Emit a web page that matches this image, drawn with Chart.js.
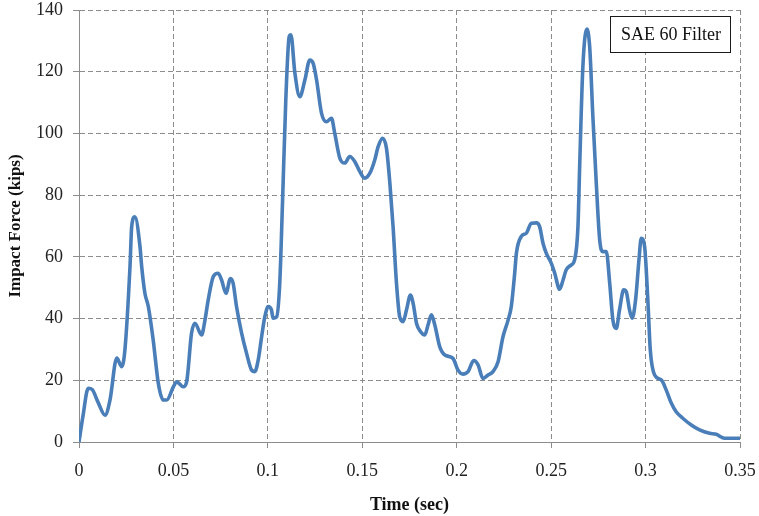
<!DOCTYPE html>
<html>
<head>
<meta charset="utf-8">
<script src="https://cdn.jsdelivr.net/npm/chart.js@4/dist/chart.umd.min.js"></script>
<style>
  html, body { margin: 0; padding: 0; background: #ffffff; }
  #wrap { width: 759px; height: 516px; }
</style>
</head>
<body>
<div id="wrap"><canvas id="c" width="759" height="516"></canvas></div>
<script>
// Time (sec)
const timeSec = [
  0, 0.002, 0.0049, 0.007, 0.010, 0.0138, 0.0164, 0.020, 0.0226, 0.0243,
  0.027, 0.0279, 0.0296, 0.0323, 0.0332, 0.0349, 0.0367, 0.0393, 0.042, 0.0446,
  0.0464, 0.05, 0.0517, 0.0552, 0.057, 0.0596, 0.0614, 0.0649, 0.0667, 0.0684,
  0.0711, 0.0737, 0.0755, 0.0778, 0.0802, 0.0816, 0.0834, 0.0861, 0.0887, 0.0914,
  0.0931, 0.0949, 0.0967, 0.0984, 0.1002, 0.1019, 0.1028, 0.1046, 0.1063, 0.1078,
  0.1095, 0.1113, 0.1122, 0.1143, 0.1169, 0.1196, 0.1222, 0.124, 0.1258, 0.1284,
  0.131, 0.1337, 0.1354, 0.1381, 0.1407, 0.1434, 0.146, 0.1487, 0.1513, 0.154,
  0.1566, 0.1584, 0.1607, 0.1628, 0.1646, 0.1663, 0.1681, 0.1698, 0.1716, 0.1734,
  0.1755, 0.1769, 0.1787, 0.1808, 0.1831, 0.1848, 0.1866, 0.1884, 0.191, 0.1937,
  0.198, 0.2007, 0.2033, 0.206, 0.209, 0.2113, 0.2139, 0.2166, 0.2192, 0.2219,
  0.2245, 0.2272, 0.2289, 0.2307, 0.2316, 0.2342, 0.2369, 0.2395, 0.2422, 0.2439,
  0.2457, 0.2474, 0.2501, 0.2519, 0.2545, 0.2563, 0.258, 0.2607, 0.2624, 0.2642,
  0.2651, 0.2668, 0.2689, 0.2704, 0.2721, 0.2739, 0.2757, 0.2774, 0.2792, 0.281,
  0.2827, 0.2845, 0.2862, 0.2884, 0.2898, 0.2915, 0.2929, 0.2947, 0.2965, 0.2977,
  0.2995, 0.3012, 0.3025, 0.3048, 0.3083, 0.3109, 0.3136, 0.3162, 0.3197, 0.3242,
  0.3286, 0.3339, 0.3374, 0.3418, 0.35
];
// Impact Force (kips)
const impactForce = [
  0, 8, 17.4, 17, 13, 8.7, 13.6, 27.2, 24.4, 29.8,
  56.8, 69.8, 73, 63.3, 56.8, 48.2, 43.9, 33, 19, 13.6,
  13.6, 17.9, 19.5, 17.9, 19.5, 35.3, 38.5, 34.7, 39.5, 46,
  53.6, 54.7, 52.5, 48.2, 53, 51.5, 43.9, 35.3, 28.8, 23.3,
  22.8, 26.6, 34.1, 40.6, 43.9, 42.8, 40.1, 40.5, 51.5, 78.4,
  110.9, 131.4, 132, 119.6, 111.9, 117.3, 123.8, 122.7, 117.3, 106.6,
  103.8, 104.9, 100.1, 92, 90.4, 92.5, 90.9, 87.6, 85.5, 87.1,
  91.4, 95.7, 98.4, 95.2, 83.9, 69.8, 51.5, 40.6, 39, 42.8,
  47.6, 45, 38.5, 35.8, 34.7, 37.9, 41.2, 37.9, 30.9, 28.2,
  27.1, 23.3, 22, 22.8, 26.4, 25, 20.6, 21.7, 22.8, 26,
  34.1, 39.5, 43.9, 54.7, 61.2, 66.6, 67.7, 70.9, 71, 69.8,
  64.4, 61.2, 57.9, 54.7, 49.5, 52.5, 55.8, 57.4, 59, 69.8,
  89.2, 121.6, 133.8, 128.1, 105.4, 83.9, 65.5, 61.7, 61.7, 51.5,
  39.5, 36.8, 42.8, 49.3, 48.6, 42.8, 40.1, 46, 59, 66,
  63.3, 46, 29.8, 21.7, 20.1, 16.9, 12.6, 9.8, 7.7, 5.5,
  3.9, 2.8, 2.5, 1.2, 1.2
];
const xTickValues = [0, 0.05, 0.1, 0.15, 0.2, 0.25, 0.3, 0.35];
const yTickValues = [0, 20, 40, 60, 80, 100, 120, 140];
const seriesLabel = 'SAE 60 Filter';
const xTitle = 'Time (sec)';
const yTitle = 'Impact Force (kips)';

const points = timeSec.map((t, i) => ({ x: t, y: impactForce[i] }));

const serif = '"Liberation Serif", "Times New Roman", serif';
const gridColor = '#8c8c8c';

const boxLabelPlugin = {
  id: 'boxLabel',
  afterDraw(chart) {
    const ctx = chart.ctx;
    const x0 = 610, y0 = 16, w = 120, h = 36;
    ctx.save();
    ctx.fillStyle = '#ffffff';
    ctx.fillRect(x0, y0, w, h);
    ctx.strokeStyle = '#1a1a1a';
    ctx.lineWidth = 1;
    ctx.strokeRect(x0 + 0.5, y0 + 0.5, w, h);
    ctx.fillStyle = '#111111';
    ctx.font = '18px ' + serif;
    ctx.textAlign = 'center';
    ctx.textBaseline = 'middle';
    ctx.fillText(seriesLabel, x0 + w / 2 + 1, y0 + h / 2 + 1);
    ctx.restore();
  }
};

new Chart(document.getElementById('c'), {
  type: 'line',
  data: {
    datasets: [{
      label: seriesLabel,
      data: points,
      borderColor: '#4a7eb8',
      borderWidth: 3.6,
      pointRadius: 0,
      fill: false,
      cubicInterpolationMode: 'monotone',
      borderCapStyle: 'round',
      borderJoinStyle: 'round'
    }]
  },
  options: {
    responsive: false,
    animation: false,
    layout: { padding: { top: 10, right: 19, left: 0, bottom: 0 } },
    plugins: { legend: { display: false }, tooltip: { enabled: false } },
    scales: {
      x: {
        type: 'linear',
        min: 0,
        max: 0.35,
        afterBuildTicks(scale) { scale.ticks = xTickValues.map(v => ({ value: v })); },
        afterFit(scale) {
          scale.height = 74;
          scale.paddingLeft = 0;
          scale.paddingRight = 0;
        },
        ticks: {
          color: '#222222',
          font: { family: serif, size: 18 },
          padding: 12,
          maxRotation: 0,
          autoSkip: false,
          callback: (v) => String(Math.round(v * 100) / 100)
        },
        grid: {
          color: gridColor,
          lineWidth: 1,
          drawTicks: true,
          tickLength: 6,
          tickColor: gridColor,
          tickBorderDash: []
        },
        border: { display: true, color: gridColor, width: 1, dash: [5, 3] },
        title: {
          display: true,
          text: xTitle,
          color: '#111111',
          font: { family: serif, size: 18, weight: 'bold' },
          padding: { top: 0, bottom: 0 }
        }
      },
      y: {
        type: 'linear',
        min: 0,
        max: 140,
        afterBuildTicks(scale) { scale.ticks = yTickValues.map(v => ({ value: v })); },
        afterFit(scale) {
          scale.width = 79;
          scale.paddingTop = 0;
          scale.paddingBottom = 0;
        },
        ticks: {
          color: '#222222',
          font: { family: serif, size: 18 },
          padding: 10,
          autoSkip: false
        },
        grid: {
          color: gridColor,
          lineWidth: 1,
          drawTicks: true,
          tickLength: 6,
          tickColor: gridColor,
          tickBorderDash: []
        },
        border: { display: true, color: gridColor, width: 1, dash: [5, 3] },
        title: {
          display: true,
          text: yTitle,
          color: '#111111',
          font: { family: serif, size: 17, weight: 'bold' },
          padding: { top: 5, bottom: 0 }
        }
      }
    }
  },
  plugins: [boxLabelPlugin]
});
</script>
</body>
</html>
